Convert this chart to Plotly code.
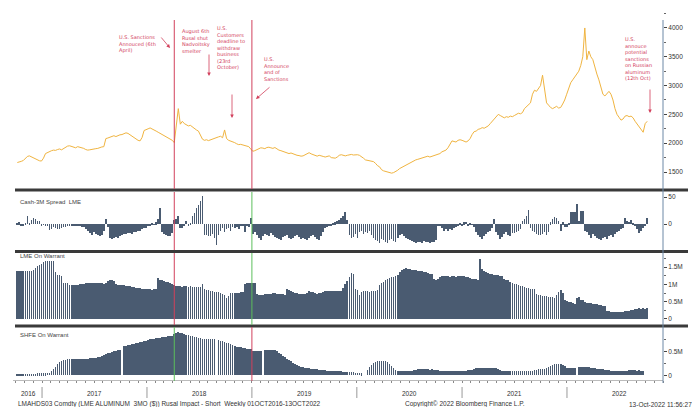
import pandas as pd
import plotly.graph_objects as go

# weekly observations, one row per 13 weeks, first week 07 Oct 2016
first_week = "2016-10-07"

price_close = [
    1665, 1670, 1685, 1700, 1740, 1770, 1780, 1760, 1745, 1735, 1715, 1695, 1690,
    1740, 1820, 1840, 1850, 1870, 1880, 1875, 1890, 1900, 1885, 1910, 1935, 1950,
    1955, 1945, 1935, 1920, 1940, 1930, 1925, 1910, 1890, 1880, 1885, 1895, 1900,
    1905, 1910, 1925, 1935, 1940, 2080, 2090, 2100, 2120, 2130, 2115, 2135, 2145,
    2150, 2165, 2180, 2170, 2145, 2125, 2110, 2080, 2050, 2040, 2100, 2220, 2240,
    2250, 2265, 2250, 2230, 2210, 2190, 2170, 2150, 2140, 2120, 2090, 2070, 2050,
    2010, 2260, 2600, 2330, 2380, 2340, 2320, 2300, 2310, 2280, 2260, 2230, 2210,
    2150, 2070, 2050, 2060, 2045, 2060, 2070, 2080, 2100, 2110, 2120, 2095, 2230,
    2080, 2050, 2040, 2030, 2010, 1990, 1975, 1980, 1970, 1960, 1950, 1940, 1900,
    1860, 1870, 1890, 1910, 1920, 1915, 1905, 1925, 1930, 1920, 1910, 1925, 1900,
    1880, 1870, 1860, 1840, 1830, 1820, 1830, 1815, 1800, 1790, 1785, 1775, 1780,
    1800, 1820, 1835, 1815, 1800, 1780, 1775, 1790, 1785, 1770, 1760, 1775, 1780,
    1750, 1745, 1740, 1760, 1790, 1800, 1795, 1780, 1790, 1800, 1805, 1795, 1800,
    1800, 1790, 1770, 1740, 1710, 1705, 1700, 1690, 1680, 1650, 1610, 1590, 1540,
    1520, 1510, 1495, 1485, 1480, 1490, 1505, 1530, 1560, 1580, 1600, 1610, 1630,
    1650, 1670, 1690, 1710, 1720, 1730, 1750, 1760, 1770, 1775, 1760, 1770, 1780,
    1790, 1800, 1820, 1850, 1860, 1880, 1920, 1980, 2040, 2030, 2020, 2050, 2060,
    2050, 2030, 2020, 2040, 2080, 2150, 2200, 2210, 2240, 2250, 2270, 2260, 2280,
    2300, 2340, 2380, 2420, 2470, 2500, 2480, 2460, 2440, 2460, 2450, 2470, 2460,
    2480, 2500, 2520, 2510, 2530, 2600, 2640, 2660, 2700, 2850, 2920, 2900, 2950,
    3000, 3180, 2950, 2700, 2660, 2620, 2600, 2620, 2640, 2610, 2620, 2680, 2750,
    2850, 2950, 3050, 3100, 3150, 3200, 3250, 3350, 3500, 4000, 3450, 3600, 3500,
    3450, 3300, 3200, 3100, 2950, 2850, 2820, 2870, 2900, 2850, 2750, 2600, 2500,
    2450, 2400, 2420, 2470, 2480, 2460, 2470, 2440, 2380, 2330, 2300, 2250, 2190,
    2340, 2380,
]

cash_3m_spread = [
    2, 3, -3, -4, 1, 15, 2, 8, 12, 10, 6, 6, -2,
    -1, -2, -3, -11, -10, -6, -8, -9, -10, -7, -6, -5, -4,
    -3, -2, -3, -4, -2, -3, -5, -6, -9, -12, -16, -20, -15,
    -18, -21, -22, -20, -12, 10, -5, -26, -27, -25, -24, -26, -22,
    -20, -18, -19, -17, -16, -18, -15, -14, -13, -12, -10, -8, -7,
    -3, -2, 2, -1, 3, 10, 30, -15, -18, -20, -22, -23, -16,
    8, 10, 15, -7, -8, -4, 5, -3, 2, 15, 20, 30, 35,
    42, 52, -20, -21, -23, -22, -18, -25, -38, -20, -12, -8, -15,
    -10, -8, -12, -6, -8, -5, -9, -4, -3, -14, -2, -6, 11,
    -18, -15, -20, -25, -30, -22, -18, -20, -22, -16, -20, -24, -26,
    -28, -30, -24, -22, -20, -25, -28, -26, -22, -20, -24, -27, -25,
    -28, -30, -26, -22, -20, -24, -28, -30, -22, -15, -8, -5, -3,
    -2, 1, 3, 5, 8, 12, 15, 22, 7, -20, -26, -24, -18,
    -25, -15, -12, -18, -14, -16, -12, -20, -26, -30, -32, -35, -28,
    -30, -33, -35, -30, -28, -32, -34, -26, -20, -18, -22, -25, -28,
    -30, -32, -34, -35, -33, -34, -35, -32, -33, -34, -35, -33, -34,
    -30, -2, -3, -8, -12, -10, -13, -9, -11, -8, -5, -3, 2,
    -2, 3, 4, -3, 2, -1, -5, -15, -20, -24, -28, -22, -18,
    -15, -12, -8, 10, -14, -20, -28, -24, -18, -15, -20, -22, -16,
    -16, -14, -12, -10, 5, 10, 14, 26, -8, -12, -15, -18, -20,
    -20, -18, -15, -20, -14, 3, 10, 13, 11, 6, -12, 3, -5,
    -5, 2, 22, 22, 22, 37, 6, 25, 25, -12, -15, -20, -25,
    -18, -22, -26, -28, -30, -26, -24, -28, -22, -20, -24, -18, -15,
    -12, -10, -8, 12, 5, 4, 7, 2, -3, -10, -17, -12, -8,
    -4, 11,
]

# million tonnes
lme_on_warrant = [
    1.38, 1.38, 1.39, 1.39, 1.38, 1.39, 1.40, 1.40, 1.42, 1.47, 1.52, 1.57, 1.60,
    1.65, 1.68, 1.69, 1.68, 1.69, 1.68, 1.36, 1.28, 1.27, 1.25, 1.05, 1.04, 1.03,
    0.98, 0.97, 0.99, 0.98, 0.99, 1.00, 1.01, 1.02, 1.04, 1.04, 1.05, 1.04, 1.04,
    1.04, 1.03, 1.04, 1.03, 1.02, 1.03, 1.10, 1.14, 1.13, 1.10, 1.00, 0.99, 0.99,
    0.98, 0.97, 0.96, 0.95, 0.94, 0.93, 0.92, 0.91, 0.90, 0.89, 0.88, 0.87, 0.87,
    0.86, 0.86, 0.85, 0.86, 0.88, 1.18, 1.14, 1.12, 1.10, 1.08, 1.06, 1.04, 1.02,
    0.98, 0.96, 0.95, 0.96, 0.93, 0.94, 0.95, 0.93, 0.94, 0.93, 0.92, 0.93, 0.92,
    0.93, 1.02, 0.86, 0.84, 0.83, 0.82, 0.80, 0.79, 0.78, 0.77, 0.75, 0.73, 0.70,
    0.62, 0.66, 0.74, 0.75, 0.76, 0.75, 0.76, 0.77, 0.78, 1.02, 1.04, 1.04, 1.03,
    1.04, 1.03, 0.72, 0.70, 0.70, 0.70, 0.71, 0.72, 0.71, 0.72, 0.75, 0.74, 0.72,
    0.71, 0.72, 0.71, 0.70, 0.87, 0.83, 0.80, 0.78, 0.76, 0.74, 0.73, 0.72, 0.72,
    0.71, 0.74, 0.80, 0.78, 0.77, 0.74, 0.73, 0.74, 0.75, 0.78, 0.80, 0.81, 0.80,
    0.80, 0.80, 0.80, 0.81, 0.82, 0.81, 0.90, 1.00, 1.10, 1.22, 1.33, 1.30, 0.87,
    0.85, 0.70, 0.78, 0.80, 0.81, 0.80, 0.79, 0.80, 0.80, 0.82, 0.85, 0.98, 1.04,
    1.08, 1.12, 1.15, 1.18, 1.20, 1.22, 1.24, 1.28, 1.35, 1.41, 1.44, 1.47, 1.45,
    1.44, 1.43, 1.42, 1.41, 1.40, 1.39, 1.38, 1.37, 1.35, 1.33, 1.31, 1.30, 1.15,
    1.14, 1.15, 1.22, 1.24, 1.23, 1.24, 1.23, 1.22, 1.23, 1.24, 1.22, 1.23, 1.24,
    1.24, 1.23, 1.22, 1.20, 1.19, 1.17, 1.16, 1.15, 1.14, 1.73, 1.45, 1.38, 1.35,
    1.32, 1.30, 1.29, 1.28, 1.27, 1.26, 1.25, 1.24, 1.16, 1.14, 1.12, 1.08, 1.04,
    1.02, 1.00, 0.98, 0.96, 0.94, 0.92, 0.90, 0.89, 0.88, 0.87, 0.86, 0.72, 0.70,
    0.68, 0.67, 0.66, 0.66, 0.65, 0.64, 0.63, 0.62, 0.70, 0.78, 0.83, 0.76, 0.56,
    0.52, 0.50, 0.48, 0.46, 0.44, 0.62, 0.65, 0.56, 0.54, 0.50, 0.47, 0.46, 0.45,
    0.44, 0.43, 0.42, 0.41, 0.40, 0.39, 0.38, 0.24, 0.22, 0.21, 0.21, 0.20, 0.20,
    0.20, 0.20, 0.20, 0.22, 0.23, 0.24, 0.26, 0.27, 0.28, 0.30, 0.31, 0.30, 0.31,
    0.30, 0.32,
]

# million tonnes, None = no report that week
shfe_on_warrant = [
    0.01, 0.01, 0.012, 0.012, 0.015, 0.015, 0.015, 0.02, 0.02, 0.035, 0.04, 0.04, 0.04,
    0.04, 0.04, 0.045, 0.05, 0.10, 0.13, 0.17, 0.24, 0.28, 0.30, 0.31, 0.32, 0.33,
    0.33, 0.34, 0.34, 0.34, 0.33, 0.33, 0.34, 0.34, 0.35, 0.35, 0.36, 0.36, 0.37,
    0.37, 0.38, 0.39, 0.40, 0.42, 0.44, 0.46, 0.47, 0.48, 0.50, 0.51, 0.52, 0.53,
    None, 0.61, 0.62, 0.63, 0.64, 0.65, 0.66, 0.67, 0.68, 0.69, 0.70, 0.71, 0.72,
    0.74, 0.75, 0.75, 0.76, 0.77, 0.78, 0.78, 0.79, 0.80, 0.80, 0.81, 0.82, 0.82,
    0.86, 0.88, 0.90, 0.89, 0.88, 0.86, 0.84, 0.83, 0.82, 0.81, 0.80, 0.79, 0.78,
    0.77, 0.76, 0.76, 0.75, 0.75, 0.76, 0.76, 0.75, None, 0.73, 0.72, 0.71, 0.70,
    0.68, 0.67, 0.65, 0.63, 0.62, 0.60, 0.59, 0.58, 0.57, 0.56, 0.55, 0.54, 0.54,
    0.51, 0.50, 0.50, 0.50, 0.50, None, 0.53, 0.53, 0.52, 0.53, 0.53, 0.52, 0.50,
    0.47, 0.44, 0.41, 0.38, 0.35, 0.32, 0.29, 0.26, 0.24, 0.22, 0.20, 0.18, 0.17,
    0.16, 0.15, 0.15, 0.14, 0.14, 0.13, 0.13, 0.12, 0.12, 0.11, 0.11, 0.10, 0.10,
    0.10, 0.09, 0.09, 0.08, 0.08, 0.08, 0.07, 0.07, 0.07, 0.06, 0.06, 0.06, 0.05,
    0.05, 0.05, 0.04, None, None, 0.12, 0.17, 0.21, 0.25, 0.27, 0.29, 0.30, 0.30,
    0.30, 0.30, 0.28, 0.24, 0.20, 0.15, 0.11, 0.09, 0.08, 0.08, 0.08, 0.09, 0.09,
    0.10, 0.10, 0.11, 0.12, 0.13, 0.13, 0.13, 0.14, 0.13, 0.13, 0.12, 0.13, 0.12,
    0.11, 0.11, 0.10, 0.10, 0.09, 0.09, 0.08, 0.08, 0.08, 0.09, 0.09, 0.10, 0.10,
    0.10, 0.10, 0.10, 0.11, 0.11, 0.12, 0.14, 0.15, 0.15, 0.15, 0.15, 0.16, 0.15,
    0.15, 0.15, 0.16, 0.15, 0.15, 0.14, 0.12, 0.10, 0.09, 0.09, 0.09, 0.09, 0.09,
    0.09, 0.09, 0.09, 0.09, 0.09, 0.10, 0.10, 0.10, 0.10, 0.10, 0.11, 0.12, 0.13,
    0.13, 0.13, 0.14, 0.15, 0.17, 0.19, 0.21, 0.23, 0.24, 0.24, 0.23, 0.22, 0.20,
    0.16, 0.15, 0.15, 0.15, 0.15, None, 0.17, 0.18, 0.18, 0.17, 0.17, 0.17, 0.16,
    0.16, 0.15, 0.14, 0.14, 0.13, 0.13, 0.12, 0.12, 0.11, 0.10, 0.10, 0.09, 0.08,
    0.08, 0.08, 0.09, 0.10, 0.10, 0.11, 0.11, 0.12, 0.11, 0.10, 0.11, 0.10, 0.09,
    None, None,
]

year_labels = ["2016", "2017", "2018", "2019", "2020", "2021", "2022"]
year_label_dates = ["2016-11-15", "2017-07-02", "2018-07-02", "2019-07-02",
                    "2020-07-02", "2021-07-02", "2022-07-02"]
year_starts = ["2017-01-01", "2018-01-01", "2019-01-01", "2020-01-01",
               "2021-01-01", "2022-01-01"]

sanctions_start = "2018-04-06"
sanctions_end = "2019-01-01"

W, H = 700, 407
RED = "#d2405c"
GREEN = "#5cbf5c"
BAR = "#4a5b71"
FONT = "Liberation Sans, Arial, sans-serif"


def px_x(p):
    return p / W


def px_y(p):
    return 1 - p / H


weeks = pd.date_range(first_week, periods=len(price_close), freq="7D")
bar_width = 2.5 * 86400000

fig = go.Figure()
fig.add_trace(go.Scatter(
    x=weeks, y=price_close, mode="lines", yaxis="y",
    line=dict(color="#f0b440", width=1),
))
for vals, ax in [(cash_3m_spread, "y2"), (lme_on_warrant, "y3"),
                 (shfe_on_warrant, "y4")]:
    fig.add_trace(go.Bar(
        x=weeks[:len(vals)], y=vals, yaxis=ax,
        marker=dict(color=BAR, line=dict(width=0)), width=bar_width,
    ))

tickfont = dict(family=FONT, size=6.5, color="#333")
yax = dict(side="right", anchor="x", showgrid=False, zeroline=False,
           ticks="outside", ticklen=3, tickcolor="#444", tickfont=tickfont,
           showline=False, fixedrange=True)

fig.update_layout(
    width=W, height=H,
    margin=dict(l=0, r=0, t=0, b=0),
    paper_bgcolor="white", plot_bgcolor="white",
    showlegend=False, bargap=0,
    font=dict(family=FONT, size=6.5, color="#333"),
    xaxis=dict(
        domain=[px_x(5), px_x(655)], range=["2016-09-22", "2022-12-01"],
        type="date", anchor="y4", showgrid=False, zeroline=False,
        showticklabels=False, ticks="outside", ticklen=2, tickcolor="#888",
        dtick="M1", tick0="2016-10-01", showline=True, linecolor="#bbb",
    ),
    yaxis=dict(yax, domain=[px_y(178), px_y(5)], range=[1257, 4260],
               tickvals=[1500, 2000, 2500, 3000, 3500, 4000],
               minor=dict(dtick=250, ticks="outside", ticklen=2, tickcolor="#666")),
    yaxis2=dict(yax, domain=[px_y(240), px_y(184)], range=[-44.4, 59.3],
                tickvals=[0, 50]),
    yaxis3=dict(yax, domain=[px_y(314), px_y(246)], range=[-0.087, 1.879],
                tickvals=[0, 0.5, 1, 1.5], ticktext=["0", "0.5M", "1M", "1.5M"],
                minor=dict(dtick=0.25, ticks="outside", ticklen=2, tickcolor="#666")),
    yaxis4=dict(yax, domain=[px_y(372), px_y(321)], range=[-0.098, 0.965],
                tickvals=[0, 0.5], ticktext=["0", "0.5M"],
                minor=dict(dtick=0.25, ticks="outside", ticklen=2, tickcolor="#666")),
)

shapes = []
# thick panel separators
for yy in [182, 243.5, 318]:
    shapes.append(dict(type="line", xref="paper", yref="paper",
                       x0=px_x(7), x1=px_x(680), y0=px_y(yy), y1=px_y(yy),
                       line=dict(color="#3a3a3a", width=3)))
# right value axis
shapes.append(dict(type="line", xref="paper", yref="paper",
                   x0=px_x(655), x1=px_x(655), y0=px_y(12), y1=px_y(375),
                   line=dict(color="#6d88a6", width=1)))
# event lines, colour changes per panel
segments = [
    (12, 181, RED, RED),
    (184, 242, RED, GREEN),
    (245, 317, RED, GREEN),
    (319, 373, GREEN, RED),
]
for top, bottom, c_start, c_end in segments:
    for d, c in [(sanctions_start, c_start), (sanctions_end, c_end)]:
        shapes.append(dict(type="line", xref="x", yref="paper",
                           x0=d, x1=d, y0=px_y(bottom), y1=px_y(top),
                           line=dict(color=c, width=1)))
# year separators
for d in year_starts:
    shapes.append(dict(type="line", xref="x", yref="paper",
                       x0=d, x1=d, y0=px_y(390), y1=px_y(379),
                       line=dict(color="#999", width=1)))
fig.update_layout(shapes=shapes)

notes = [
    (110, 25, "U.S. Sanctions<br>Annouced (6th<br>April)"),
    (173, 19, "August 6th<br>Rusal shut<br>Nadvoitsky<br>smelter"),
    (208, 16, "U.S.<br>Customers<br>deadline to<br>withdraw<br>business<br>(23rd<br>October)"),
    (255, 47, "U.S.<br>Announce<br>and of<br>Sanctions"),
    (616, 27, "U.S.<br>annouce<br>potential<br>sanctions<br>on Russian<br>aluminum<br>(12th Oct)"),
]
for nx, ny, txt in notes:
    fig.add_annotation(x=px_x(nx), y=px_y(ny), xref="paper", yref="paper",
                       text=txt, showarrow=False, xanchor="left", yanchor="top",
                       align="left", borderpad=0,
                       font=dict(family="DejaVu Sans, Verdana, sans-serif",
                                 size=5, color=RED))

arrows = [
    (152, 28, 162, 40),
    (201, 45, 201, 68),
    (224, 85, 224, 110),
    (263, 78, 248, 91),
    (642, 80, 642, 105),
]
for x0, y0, x1, y1 in arrows:
    fig.add_annotation(x=px_x(x1), y=px_y(y1), xref="paper", yref="paper",
                       ax=x0 - x1, ay=y0 - y1, text="", showarrow=True,
                       arrowhead=2, arrowsize=0.9, arrowwidth=0.8,
                       arrowcolor=RED)

panel_labels = [
    (10, 194, "Cash-3M Spread\u00a0\u00a0LME"),
    (10, 248, "LME On Warrant"),
    (10, 327, "SHFE On Warrant"),
]
for lx, ly, txt in panel_labels:
    fig.add_annotation(x=px_x(lx), y=px_y(ly), xref="paper", yref="paper",
                       text=txt, showarrow=False, xanchor="left", yanchor="middle",
                       font=dict(family=FONT, size=6, color="#444"))

for d, lab in zip(year_label_dates, year_labels):
    fig.add_annotation(x=d, y=px_y(385), xref="x", yref="paper", text=lab,
                       showarrow=False, xanchor="center", yanchor="middle",
                       font=dict(family=FONT, size=6.5, color="#333"))

footer = [
    (8, "left", "LMAHDS03 Comdty (LME ALUMINUM\u00a0\u00a03MO ($)) Rusal Impact - Short\u00a0\u00a0Weekly 01OCT2016-13OCT2022"),
    (457, "center", "Copyright\u00a9 2022 Bloomberg Finance L.P."),
    (686, "right", "13-Oct-2022 11:56:27"),
]
for fx, anchor, txt in footer:
    fig.add_annotation(x=px_x(fx), y=px_y(396), xref="paper", yref="paper",
                       text=txt, showarrow=False, xanchor=anchor, yanchor="middle",
                       font=dict(family=FONT, size=6.5, color="#333"))

fig.write_html("out.html")
